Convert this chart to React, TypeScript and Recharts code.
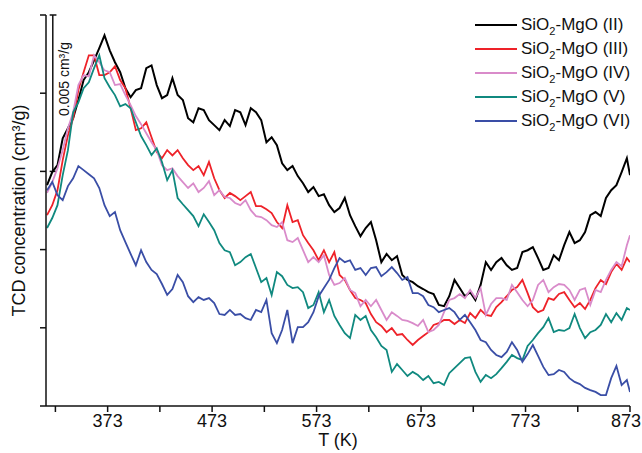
import React from 'react';
import { LineChart, Line, XAxis, YAxis, Legend, ReferenceLine } from 'recharts';

// temperature (K)
const temps = [
  315, 320, 325, 330, 335, 340, 345, 350, 355, 360,
  365, 370, 375, 380, 385, 390, 395, 400, 405, 410,
  415, 420, 425, 430, 435, 440, 445, 450, 455, 460,
  465, 470, 475, 480, 485, 490, 495, 500, 505, 510,
  515, 520, 525, 530, 535, 540, 545, 550, 555, 560,
  565, 570, 575, 580, 585, 590, 595, 600, 605, 610,
  615, 620, 625, 630, 635, 640, 645, 650, 655, 660,
  665, 670, 675, 680, 685, 690, 695, 700, 705, 710,
  715, 720, 725, 730, 735, 740, 745, 750, 755, 760,
  765, 770, 775, 780, 785, 790, 795, 800, 805, 810,
  815, 820, 825, 830, 835, 840, 845, 850, 855, 860,
  865, 870, 873,
];

// TCD signal, 10^-3 cm3/g (offset)
const sII = [
  7.06, 7.48, 7.70, 8.56, 8.88, 9.20, 9.78, 10.42, 10.67, 11.05,
  11.44, 11.85, 11.37, 10.99, 10.67, 10.16, 9.87, 10.10, 10.16, 10.80,
  10.89, 10.26, 9.84, 9.94, 10.48, 9.94, 9.78, 9.20, 9.07, 9.52,
  9.46, 9.14, 8.98, 8.82, 9.14, 8.95, 9.46, 9.39, 8.98, 9.52,
  9.39, 9.14, 8.43, 8.59, 8.34, 7.76, 7.54, 7.67, 7.35, 7.12,
  6.84, 7.00, 6.71, 6.77, 6.42, 6.20, 6.33, 6.65, 6.10, 5.75,
  5.43, 5.69, 5.88, 5.30, 4.60, 4.86, 4.66, 4.79, 4.19, 4.03,
  3.96, 3.83, 3.74, 3.64, 3.58, 3.23, 3.19, 3.51, 4.03, 3.77,
  3.51, 3.64, 3.39, 3.87, 4.60, 4.35, 4.60, 4.73, 4.50, 4.35,
  4.41, 4.92, 4.98, 5.08, 4.73, 4.35, 4.41, 4.82, 4.66, 5.14,
  5.56, 5.21, 5.30, 5.56, 6.10, 6.20, 6.07, 6.65, 6.90, 7.06,
  7.48, 7.92, 7.38,
];

const sIII = [
  6.10, 6.42, 6.90, 7.86, 8.66, 9.20, 10.10, 10.67, 11.21, 11.21,
  10.58, 10.58, 10.67, 10.86, 10.42, 10.16, 9.52, 8.82, 8.88, 9.07,
  8.59, 8.12, 7.92, 8.18, 8.01, 8.18, 7.92, 7.70, 7.54, 7.67,
  7.38, 7.80, 7.28, 6.90, 6.65, 6.81, 6.71, 6.58, 6.71, 6.84,
  6.39, 6.39, 6.29, 6.17, 5.88, 5.69, 6.42, 5.88, 5.94, 5.46,
  5.21, 4.98, 4.66, 4.98, 4.60, 4.92, 4.19, 4.03, 3.71, 3.45,
  3.39, 3.29, 2.94, 2.68, 2.56, 2.36, 2.49, 2.27, 2.30, 2.11,
  1.95, 2.11, 2.24, 2.36, 2.59, 2.65, 2.75, 2.75, 2.62, 2.75,
  2.65, 2.97, 2.81, 3.07, 2.91, 2.88, 3.16, 3.32, 3.51, 3.71,
  3.80, 4.03, 3.61, 3.16, 3.00, 3.07, 3.45, 3.39, 3.58, 3.64,
  3.39, 3.16, 3.29, 3.10, 3.39, 3.77, 4.03, 3.90, 4.28, 4.54,
  4.35, 4.73, 4.60,
];

const sIV = [
  6.81, 7.16, 7.60, 8.18, 8.88, 9.39, 10.26, 10.58, 10.54, 11.21,
  10.99, 10.73, 10.67, 10.26, 10.29, 9.94, 9.62, 9.27, 9.01, 8.72,
  8.43, 8.18, 7.70, 7.54, 7.60, 7.35, 7.16, 6.97, 7.12, 6.84,
  6.97, 7.19, 6.74, 6.90, 6.68, 6.65, 6.49, 6.42, 6.58, 6.26,
  6.07, 6.04, 5.94, 5.78, 5.72, 5.88, 5.30, 5.24, 5.37, 4.98,
  4.60, 4.76, 4.60, 4.82, 4.19, 3.87, 3.93, 4.09, 3.71, 3.61,
  3.19, 3.39, 3.19, 3.39, 3.07, 2.75, 3.00, 2.88, 2.75, 2.72,
  2.65, 2.56, 2.75, 2.36, 2.43, 2.59, 3.00, 3.39, 3.45, 3.58,
  3.45, 3.71, 3.45, 3.77, 2.91, 3.26, 3.45, 3.45, 3.39, 3.87,
  3.64, 3.39, 3.19, 3.39, 3.87, 4.03, 3.64, 3.80, 3.90, 3.87,
  3.71, 3.39, 3.71, 3.77, 3.23, 3.71, 3.64, 4.03, 4.35, 4.60,
  4.47, 5.14, 5.46,
];

const sV = [
  5.69, 6.01, 6.42, 7.38, 8.18, 9.39, 9.71, 10.16, 10.35, 10.80,
  11.21, 10.48, 10.19, 9.94, 9.58, 9.65, 9.52, 9.07, 8.63, 8.34,
  8.02, 8.24, 7.80, 7.22, 7.54, 6.65, 6.45, 6.26, 6.07, 5.75,
  6.13, 5.88, 5.62, 5.21, 4.98, 4.92, 4.50, 4.60, 4.76, 4.86,
  4.41, 3.96, 4.09, 3.55, 4.28, 4.15, 3.87, 3.77, 3.80, 3.64,
  3.13, 3.23, 3.64, 3.00, 3.39, 2.88, 2.59, 2.33, 2.17, 2.91,
  2.75, 2.88, 2.43, 2.20, 1.92, 1.79, 1.09, 1.34, 1.15, 0.96,
  1.09, 0.99, 0.83, 0.96, 0.73, 0.77, 0.67, 1.05, 1.21, 1.37,
  1.53, 1.56, 1.09, 0.77, 0.99, 0.89, 1.02, 1.21, 1.41, 1.63,
  1.53, 1.47, 1.92, 2.11, 2.33, 2.52, 2.81, 2.36, 2.43, 2.40,
  2.49, 2.94, 2.49, 2.17, 2.36, 2.43, 2.59, 2.94, 2.68, 2.97,
  2.75, 3.13, 3.07,
];

const sVI = [
  6.90, 7.16, 6.74, 6.58, 7.03, 7.28, 7.67, 7.54, 7.41, 7.28,
  6.97, 6.42, 6.07, 6.20, 5.62, 5.24, 4.86, 4.50, 4.98, 4.60,
  4.35, 4.22, 3.90, 3.55, 3.74, 4.19, 3.96, 3.51, 3.32, 3.48,
  3.39, 3.45, 3.29, 2.94, 2.91, 3.07, 2.91, 2.94, 2.81, 2.75,
  3.07, 3.00, 3.39, 2.33, 2.01, 2.43, 3.07, 2.01, 2.52, 2.52,
  2.68, 3.00, 3.51, 3.77, 4.03, 4.41, 4.73, 4.60, 4.66, 4.35,
  4.41, 4.19, 4.41, 4.44, 4.15, 4.28, 4.44, 4.25, 4.03, 4.12,
  3.61, 3.61, 3.51, 3.23, 3.16, 3.00, 3.07, 3.13, 3.00, 2.75,
  2.91, 2.68, 2.43, 2.11, 2.04, 1.79, 1.63, 1.56, 1.73, 2.04,
  1.79, 1.41, 1.66, 1.95, 1.60, 1.25, 0.99, 1.02, 1.15, 1.09,
  0.89, 0.77, 0.70, 0.58, 0.51, 0.45, 0.35, 0.35, 0.89, 1.28,
  0.67, 0.83, 0.45,
];

const seriesKeys = ['ii', 'iii', 'iv', 'v', 'vi'];
const seriesLabels = ['(II)', '(III)', '(IV)', '(V)', '(VI)'];
const seriesColors = ['#000000', '#ee2229', '#d98bca', '#10897f', '#3a4ea6'];
const seriesWidths = [2, 1.8, 1.8, 1.8, 1.8];

const xTicks = [323, 373, 423, 473, 523, 573, 623, 673, 723, 773, 823, 873];
const yTicks = [0, 2.5, 5, 7.5, 10, 12.5];
const scaleBar = [7.5, 12.5]; // 0.005 cm3/g

const FONT = '"Liberation Sans", Arial, sans-serif';

const XTick = (props: any) => {
  const { x, y, payload } = props;
  if ((payload.value - 373) % 100 !== 0) return <g />;
  const shift = payload.value === 873 ? -4 : 0;
  return (
    <text x={x + shift} y={y} dy={13} textAnchor="middle" fontSize={18} fill="#111" fontFamily={FONT}>
      {payload.value}
    </text>
  );
};

const NoTick = () => <g />;

const renderLegend = () => (
  <div style={{ fontFamily: FONT, fontSize: 17, color: '#111' }}>
    {seriesKeys.map((k, i) => (
      <div key={k} style={{ display: 'flex', alignItems: 'center', height: 24 }}>
        <div style={{ width: 42, height: 2, background: seriesColors[i], marginRight: 4 }} />
        <span style={{ whiteSpace: 'nowrap', lineHeight: '24px' }}>
          SiO<span style={{ fontSize: 11, position: 'relative', top: 5 }}>2</span>-MgO {seriesLabels[i]}
        </span>
      </div>
    ))}
  </div>
);

export default function App() {
  const data = temps.map((t, i) => ({
    t,
    ii: sII[i],
    iii: sIII[i],
    iv: sIV[i],
    v: sV[i],
    vi: sVI[i],
  }));

  return (
    <div style={{ position: 'absolute', left: 0, top: 0, width: 642, height: 453, background: '#fff' }}>
      <LineChart width={642} height={453} data={data} margin={{ top: 15, right: 12, bottom: 7, left: 6 }}>
        <XAxis
          dataKey="t"
          type="number"
          domain={[314, 873]}
          ticks={xTicks}
          tick={XTick}
          tickSize={6}
          tickMargin={2}
          height={40}
          stroke="#111"
          strokeWidth={1.5}
          allowDataOverflow
          label={{ value: 'T (K)', position: 'insideBottom', offset: 0, fontSize: 18, fill: '#111', fontFamily: FONT }}
        />
        <YAxis
          type="number"
          domain={[0, 12.5]}
          ticks={yTicks}
          tick={NoTick}
          tickSize={6}
          width={40}
          stroke="#111"
          strokeWidth={1.5}
          allowDataOverflow
          label={{
            value: 'TCD concentration (cm³/g)',
            angle: -90,
            position: 'insideLeft',
            offset: 13,
            fontSize: 18,
            fill: '#111',
            fontFamily: FONT,
            style: { textAnchor: 'middle' },
          }}
        />
        <ReferenceLine
          segment={[{ x: 320.5, y: scaleBar[0] }, { x: 320.5, y: scaleBar[1] }]}
          stroke="#111"
          strokeWidth={1.5}
        />
        <ReferenceLine segment={[{ x: 317.5, y: scaleBar[1] }, { x: 324, y: scaleBar[1] }]} stroke="#111" strokeWidth={1.5} />
        <ReferenceLine segment={[{ x: 317.5, y: scaleBar[0] }, { x: 324, y: scaleBar[0] }]} stroke="#111" strokeWidth={1.5} />
        {seriesKeys.map((k, i) => (
          <Line
            key={k}
            dataKey={k}
            type="linear"
            stroke={seriesColors[i]}
            strokeWidth={seriesWidths[i]}
            dot={false}
            isAnimationActive={false}
          />
        ))}
        <Legend
          layout="vertical"
          align="center"
          verticalAlign="middle"
          content={renderLegend}
          wrapperStyle={{ top: 13, left: 475, width: 170, height: 120 }}
        />
      </LineChart>
      <div
        style={{
          position: 'absolute',
          left: 64,
          top: 79,
          transform: 'translate(-50%, -50%) rotate(-90deg)',
          fontFamily: FONT,
          fontSize: 14,
          color: '#111',
          whiteSpace: 'nowrap',
          lineHeight: '16px',
          pointerEvents: 'none',
        }}
      >
        0.005 cm³/g
      </div>
    </div>
  );
}
